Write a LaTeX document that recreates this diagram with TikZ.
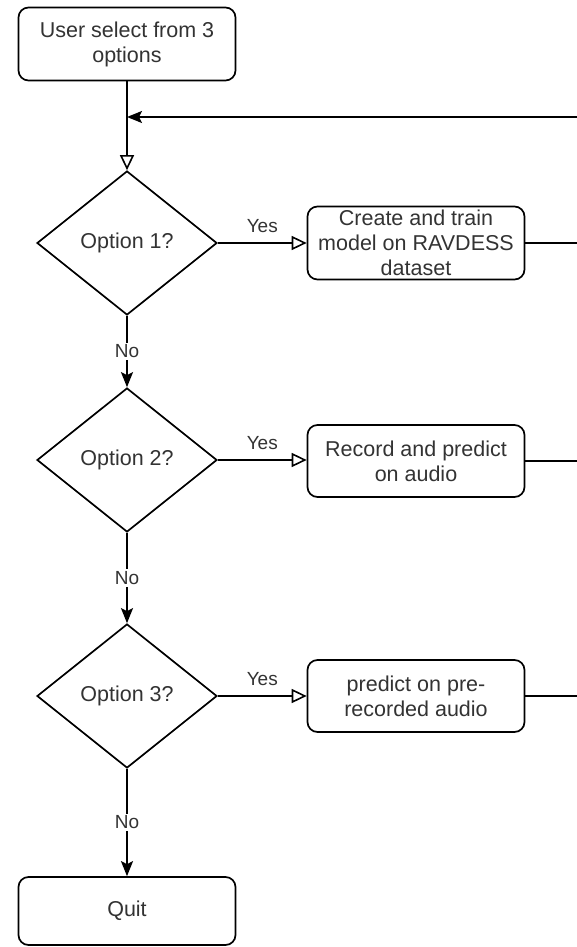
\documentclass[tikz,border=0pt]{standalone}
\usepackage{fontspec}
\setmainfont{Liberation Sans}
\usetikzlibrary{shapes.geometric,arrows.meta}
\definecolor{txt}{HTML}{333333}
\begin{document}
\begin{tikzpicture}[x=1pt,y=-1pt,
  every node/.style={text=txt},
  box/.style={draw=black,line width=1.7pt,rounded corners=10pt,fill=white,minimum width=217pt,align=center,font=\fontsize{21.5}{25}\selectfont,inner sep=0pt},
  dia/.style={draw=black,line width=1.7pt,diamond,fill=white,minimum width=180pt,minimum height=144pt,inner sep=0pt,font=\fontsize{21.5}{25}\selectfont},
  lbl/.style={font=\fontsize{19}{22}\selectfont,fill=white,inner sep=2pt},
  ylbl/.style={font=\fontsize{19}{22}\selectfont,above,inner sep=2pt,yshift=7pt},
  conn/.style={draw=black,line width=1.7pt},
  opentri/.style={-{Triangle[open,length=15pt,width=14pt,line width=1.6pt]}},
  filled/.style={-{Stealth[length=15pt,width=12pt,inset=3pt]}}]
\useasboundingbox (0,0) rectangle (577,947);
\fill[white] (0,0) rectangle (577,947);
\node[box,minimum height=73pt] (top) at (127,44) {User select from 3\\options};
\node[dia] (d1) at (127,243) {Option 1?};
\node[dia] (d2) at (127,460) {Option 2?};
\node[dia] (d3) at (127,696) {Option 3?};
\node[box,minimum height=73pt] (b1) at (416,243) {Create and train\\model on RAVDESS\\dataset};
\node[box,minimum height=72pt] (b2) at (416,461) {Record and predict\\on audio};
\node[box,minimum height=72pt] (b3) at (416,696) {predict on pre-\\recorded audio};
\node[box,minimum height=68pt] (quit) at (127,911) {Quit};
\coordinate (j) at (127,117);
\coordinate (r) at (590,117);
\draw[conn,opentri] (top) -- (d1);
\draw[conn,filled] (b1.east) -| (r) -- (j);
\draw[conn] (b2.east) -| (r);
\draw[conn] (b3.east) -| (r);
\draw[conn,opentri] (d1) -- node[ylbl] {Yes} (b1);
\draw[conn,opentri] (d2) -- node[ylbl] {Yes} (b2.west |- d2);
\draw[conn,opentri] (d3) -- node[ylbl] {Yes} (b3);
\draw[conn,filled] (d1) -- node[lbl] {No} (d2);
\draw[conn,filled] (d2) -- node[lbl] {No} (d3);
\draw[conn,filled] (d3) -- node[lbl] {No} (quit);
\end{tikzpicture}
\end{document}
